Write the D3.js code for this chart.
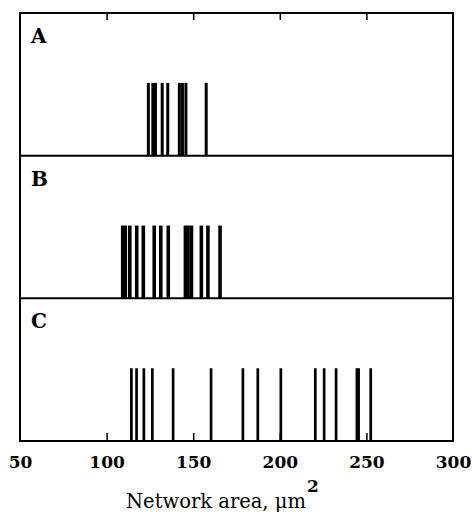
<!DOCTYPE html>
<html><head><meta charset="utf-8">
<script src="https://cdn.jsdelivr.net/npm/d3@7"></script>
<style>body{margin:0;background:#fff}svg{display:block}</style>
</head><body>
<script>
const panelNames = ["A", "B", "C"];
const panelA = [124.1, 126.7, 128.2, 132.1, 135.3, 142.0, 143.8, 145.8, 157.5];
const panelB = [109.3, 110.8, 113.4, 117.4, 121.2, 127.5, 131.3, 135.6, 145.5, 147.0, 149.0, 154.7, 158.5, 165.5];
const panelC = [114.3, 117.3, 121.5, 126.4, 138.4, 160.3, 178.7, 187.3, 200.6, 220.5, 225.6, 232.5, 244.5, 245.5, 252.5];
const tickValues = [50, 100, 150, 200, 250, 300];
const xTitle = "Network area, \u03bcm";
const xTitleSup = "2";

(function () {
const W = 472, H = 512;
const mLeft = 20, mRight = 453, mTop = 13, mBottom = 441;
const svg = d3.select("body").append("svg").attr("width", W).attr("height", H);
const x = d3.scaleLinear().domain([50, 300]).range([mLeft, mRight]);
const panels = [panelA, panelB, panelC];
const band = d3.scaleBand().domain(panelNames).range([mTop, mBottom]).padding(0);
const widths = [3, 3.6, 2.7];

panels.forEach((vals, i) => {
  const name = panelNames[i];
  const y0 = band(name), y1 = y0 + band.bandwidth();
  const y = d3.scaleLinear().domain([0, 1]).range([y1, y0]);
  const g = svg.append("g");
  g.selectAll("line.bar").data(vals).join("line")
    .attr("x1", d => x(d)).attr("x2", d => x(d))
    .attr("y1", y(0)).attr("y2", y(0.51))
    .attr("stroke", "#000").attr("stroke-width", widths[i]);
  g.append("text").attr("x", 31).attr("y", y0 + 30)
    .attr("font-family", "DejaVu Serif").attr("font-weight", "bold")
    .attr("font-size", 20).text(name);
  if (i > 0) {
    g.append("line").attr("x1", mLeft).attr("x2", mRight).attr("y1", y0).attr("y2", y0)
      .attr("stroke", "#000").attr("stroke-width", 2);
  }
});

svg.append("rect").attr("x", mLeft).attr("y", mTop).attr("width", mRight - mLeft).attr("height", mBottom - mTop)
  .attr("fill", "none").attr("stroke", "#000").attr("stroke-width", 2);

const axB = d3.axisBottom(x).tickValues(tickValues).tickSizeInner(-8).tickSizeOuter(0).tickPadding(15);
const gB = svg.append("g").attr("transform", `translate(0,${mBottom})`).call(axB);
gB.select(".domain").remove();
gB.selectAll(".tick line").attr("stroke", "#000").attr("stroke-width", 1.5)
  .filter(d => d === 50 || d === 300).remove();
gB.selectAll(".tick text").attr("font-family", "DejaVu Serif").attr("font-weight", "bold")
  .attr("font-size", 17).attr("fill", "#000");

const axT = d3.axisTop(x).tickValues(tickValues.filter(d => d > 50 && d < 300)).tickSizeInner(-7).tickSizeOuter(0).tickFormat("");
const gT = svg.append("g").attr("transform", `translate(0,${mTop})`).call(axT);
gT.select(".domain").remove();
gT.selectAll(".tick line").attr("stroke", "#000").attr("stroke-width", 1.5);

svg.append("text").attr("x", 216).attr("y", 508).attr("text-anchor", "middle")
  .attr("font-family", "DejaVu Serif").attr("font-size", 19.5).attr("fill", "#000").text(xTitle);
svg.append("text").attr("x", 307).attr("y", 492)
  .attr("font-family", "DejaVu Serif").attr("font-weight", "bold").attr("font-size", 17).attr("fill", "#000").text(xTitleSup);
})();
</script>
</body></html>
